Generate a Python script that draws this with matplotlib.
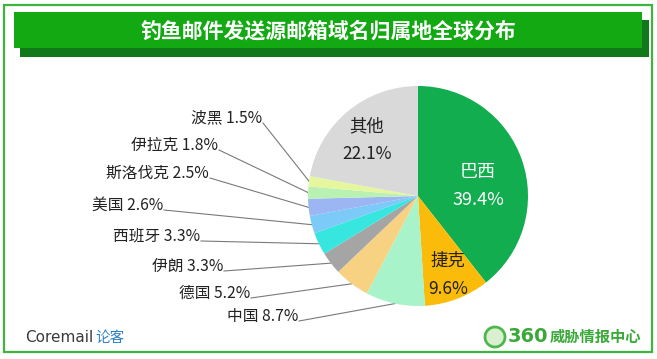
import numpy as np
import matplotlib
matplotlib.use("agg")
import matplotlib.pyplot as plt
from matplotlib.patches import Rectangle, Circle

plt.rcParams['font.family'] = ['Noto Sans CJK SC', 'DejaVu Sans']

# data
countries = ['巴西', '捷克', '中国', '德国', '伊朗', '西班牙', '美国', '斯洛伐克', '伊拉克', '波黑', '其他']
shares = [39.4, 9.6, 8.7, 5.2, 3.3, 3.3, 2.6, 2.5, 1.8, 1.5, 22.1]
colors = ['#12ad4e', '#fbbb0a', '#a9f3cb', '#f8d283', '#a5a5a5', '#36e6df',
          '#7ccaf7', '#9cb6f3', '#b9f1b2', '#e6f69c', '#d9d9d9']
title = '钓鱼邮件发送源邮箱域名归属地全球分布'

# layout (pixel coords, y measured from top of image)
W, H = 657, 359
cx, cy, rad = 418, 196, 110
# outside labels: right edge x, centre y
outside = {
    '波黑': (262, 118), '伊拉克': (218, 145), '斯洛伐克': (209, 173),
    '美国': (163, 205), '西班牙': (200, 236), '伊朗': (223, 266),
    '德国': (250, 293), '中国': (298, 316),
}
inside = {'巴西': (478, 186, 'white'), '捷克': (448, 275, '#222222'),
          '其他': (367, 140, '#222222')}

fig = plt.figure(figsize=(W / 100, H / 100), dpi=100)
ax = fig.add_axes([0, 0, 1, 1])

wedges, _ = ax.pie(shares, colors=colors, startangle=90, counterclock=False,
                   center=(cx, H - cy), radius=rad,
                   wedgeprops=dict(linewidth=0))
ax.set_xlim(0, W)
ax.set_ylim(0, H)
ax.set_aspect('auto')
ax.axis('off')

# frame and title banner
ax.add_patch(Rectangle((4, H - 352), 648, 347, fill=False, edgecolor='#3db43d', lw=1.6, zorder=0))
ax.add_patch(Rectangle((20, H - 57), 629, 37, facecolor='#107a1a', lw=0, zorder=1))
ax.add_patch(Rectangle((14, H - 48), 628, 36, facecolor='#12a912', lw=0, zorder=2))
ax.text(328, H - 31, title, color='white', fontsize=15, fontweight='bold',
        ha='center', va='center', zorder=3)

# labels
for name, w in zip(countries, wedges):
    pct = '%.1f%%' % shares[countries.index(name)]
    if name in inside:
        x, y, c = inside[name]
        fs = 13 if name == '巴西' else 12.5
        ax.text(x, H - y, name + '\n' + pct, color=c, fontsize=fs,
                ha='center', va='center', linespacing=1.7)
    else:
        x, y = outside[name]
        ax.text(x, H - y, name + ' ' + pct, color='#222222', fontsize=11.3,
                ha='right', va='center')
        mid = np.deg2rad((w.theta1 + w.theta2) / 2)
        ex = cx + rad * np.cos(mid)
        ey = (H - cy) + rad * np.sin(mid)
        ax.plot([x + 1, ex], [H - y - 5, ey], color='#7a7a7a', lw=0.8, zorder=0.5)

# footer marks
ax.text(25, H - 338, 'Coremail', color='#3a3a3a', fontsize=11, ha='left', va='center',
        family='DejaVu Sans')
ax.text(95, H - 338, '论客', color='#2f80c2', fontsize=10.5, ha='left', va='center')
ax.add_patch(Circle((495, H - 337), 10, facecolor='#d8f0d0', edgecolor='#4cb84c', lw=2))
ax.text(508, H - 337, '360', color='#3aa93a', fontsize=14, fontweight='bold',
        ha='left', va='center', family='DejaVu Sans')
ax.text(550, H - 337, '威胁情报中心', color='#3aa93a', fontsize=11, fontweight='bold',
        ha='left', va='center')

fig.savefig('out.png', dpi=100, facecolor='white')
